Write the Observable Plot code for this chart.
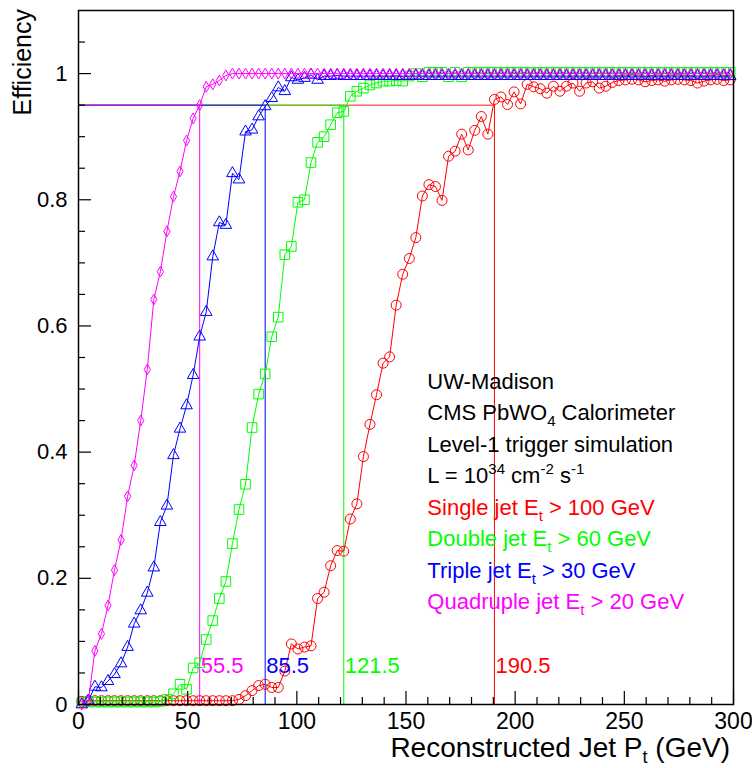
<!DOCTYPE html>
<html>
<head>
<meta charset="utf-8">
<script src="https://cdn.jsdelivr.net/npm/d3@7"></script>
<script src="https://cdn.jsdelivr.net/npm/@observablehq/plot@0.6"></script>
<style>
html,body{margin:0;padding:0;background:#fff;}
</style>
</head>
<body>
<div id="chart"></div>
<script>
// ---- data: trigger efficiency vs reconstructed jet Pt, 3 GeV bins (0..300 GeV) ----
const binWidth = 3;
const nBins = 100;
const ptCenters = Array.from({length: nBins}, (_, i) => binWidth * (i + 0.5));

const singleJet = [
  0.005,0.006,0.006,0.006,0.006,0.006,0.006,0.006,0.006,0.006,
  0.006,0.006,0.006,0.006,0.006,0.006,0.006,0.006,0.006,0.006,
  0.006,0.006,0.006,0.006,0.008,0.014,0.022,0.030,0.032,0.027,
  0.027,0.053,0.096,0.088,0.091,0.093,0.168,0.178,0.220,0.244,
  0.243,0.294,0.318,0.393,0.444,0.491,0.541,0.551,0.633,0.682,
  0.707,0.740,0.806,0.824,0.821,0.799,0.869,0.877,0.904,0.879,
  0.910,0.932,0.904,0.959,0.963,0.951,0.971,0.952,0.983,0.979,
  0.976,0.969,0.980,0.972,0.980,0.985,0.972,0.985,0.987,0.977,
  0.980,0.986,0.989,0.990,0.991,0.990,0.987,0.989,0.990,0.988,
  0.990,0.991,0.990,0.989,0.985,0.988,0.990,0.991,0.989,0.990
];
const doubleJet = [
  0.003,0.004,0.004,0.004,0.004,0.004,0.004,0.004,0.004,0.004,
  0.004,0.004,0.005,0.008,0.017,0.032,0.024,0.058,0.066,0.103,
  0.133,0.168,0.195,0.255,0.309,0.349,0.439,0.492,0.524,0.583,
  0.614,0.713,0.726,0.796,0.800,0.859,0.891,0.900,0.919,0.938,
  0.940,0.964,0.972,0.977,0.982,0.985,0.988,0.988,0.989,0.988,
  0.996,1.000,0.995,1.002,1.002,1.002,0.995,1.002,0.995,1.002,
  1.002,1.002,1.002,1.002,1.002,1.002,1.002,1.002,1.002,1.002,
  1.002,1.002,1.002,1.002,1.002,1.002,1.002,1.002,1.002,1.002,
  1.002,1.002,1.002,1.002,1.002,1.002,1.002,1.002,1.002,1.002,
  1.002,1.002,1.002,1.002,1.002,1.002,1.002,1.002,1.002,1.002
];
const tripleJet = [
  0.000,0.006,0.028,0.027,0.037,0.048,0.065,0.091,0.128,0.149,
  0.177,0.217,0.289,0.315,0.395,0.437,0.474,0.522,0.583,0.622,
  0.710,0.764,0.760,0.842,0.832,0.908,0.911,0.932,0.948,0.961,
  0.978,0.972,0.994,0.990,0.993,0.998,0.990,0.996,0.996,0.997,
  0.996,0.996,0.996,0.996,0.996,0.996,0.996,0.996,0.996,0.996,
  0.996,0.996,0.996,0.996,0.996,0.996,0.996,0.996,0.996,0.996,
  0.996,0.996,0.996,0.996,0.996,0.996,0.996,0.996,0.996,0.996,
  0.996,0.996,0.996,0.996,0.996,0.996,0.996,0.996,0.996,0.996,
  0.996,0.996,0.996,0.996,0.996,0.996,0.996,0.996,0.996,0.996,
  0.996,0.996,0.996,0.996,0.996,0.996,0.996,0.996,0.996,0.996
];
const quadJet = [
  0.000,0.005,0.085,0.112,0.157,0.213,0.261,0.330,0.379,0.450,
  0.531,0.642,0.686,0.750,0.805,0.845,0.894,0.929,0.950,0.979,
  0.983,0.989,0.997,1.000,1.000,1.000,1.000,1.000,1.000,1.000,
  1.000,1.000,1.000,1.000,1.000,1.000,1.000,1.000,1.000,1.000,
  1.000,1.000,1.000,1.000,1.000,1.000,1.000,1.000,1.000,1.000,
  1.000,1.000,1.000,1.000,1.000,1.000,1.000,1.000,1.000,1.000,
  1.000,1.000,1.000,1.000,1.000,1.000,1.000,1.000,1.000,1.000,
  1.000,1.000,1.000,1.000,1.000,1.000,1.000,1.000,1.000,1.000,
  1.000,1.000,1.000,1.000,1.000,1.000,1.000,1.000,1.000,1.000,
  1.000,1.000,1.000,1.000,1.000,1.000,1.000,1.000,1.000,1.000
];

const seriesColors  = ["#ff0000", "#00ff00", "#0000ff", "#ff00ff"];
const seriesSymbols = ["circle", "square", "triangle", "diamond"];
const seriesRadius  = [5.0, 5.4, 4.3, 3.3];
const thresholds95  = [190.5, 121.5, 85.5, 55.5];
const thresholdText = ["190.5", "121.5", "85.5", "55.5"];
const effLevel = 0.95;
const thresholdLabelY = 0.05;

const xMajorTicks = [0, 50, 100, 150, 200, 250, 300];
const xMinorTicks = [10,20,30,40,60,70,80,90,110,120,130,140,160,170,180,190,210,220,230,240,260,270,280,290];
const yMajorTicks = [0, 0.2, 0.4, 0.6, 0.8, 1];
const yMinorTicks = [0.05,0.1,0.15,0.25,0.3,0.35,0.45,0.5,0.55,0.65,0.7,0.75,0.85,0.9,0.95,1.05];

const legendLines = [
  [["UW-Madison"]],
  [["CMS PbWO"], ["4", "sub"], [" Calorimeter"]],
  [["Level-1 trigger simulation"]],
  [["L = 10"], ["34", "sup"], [" cm"], ["-2", "sup"], [" s"], ["-1", "sup"]],
  [["Single jet E"], ["t", "sub"], [" > 100 GeV"]],
  [["Double jet E"], ["t", "sub"], [" > 60 GeV"]],
  [["Triple jet E"], ["t", "sub"], [" > 30 GeV"]],
  [["Quadruple jet E"], ["t", "sub"], [" > 20 GeV"]]
];
const legendColors = ["#000000", "#000000", "#000000", "#000000", ...seriesColors];
const legendX = 160, legendTopY = 0.5, legendStep = 0.05;

const xTitle = [["Reconstructed Jet P"], ["t", "sub"], [" (GeV)"]];
const yTitle = "Efficiency";

// ---- chart ----
const FONT = "'Liberation Sans', Arial, Helvetica, sans-serif";
const effSeries = [singleJet, doubleJet, tripleJet, quadJet];
const marks = [];

thresholds95.forEach((t, i) => {
  marks.push(Plot.ruleY([effLevel], {x1: 0, x2: t, stroke: seriesColors[i], strokeOpacity: 0.6, strokeWidth: 1.5}));
  marks.push(Plot.ruleX([t], {y1: 0, y2: effLevel, stroke: seriesColors[i], strokeWidth: 1}));
});

effSeries.forEach((vals, i) => {
  const rows = vals.map((v, k) => ({pt: ptCenters[k], eff: v}));
  marks.push(Plot.line(rows, {x: "pt", y: "eff", stroke: seriesColors[i], strokeWidth: 1}));
  marks.push(Plot.dot(rows, {x: "pt", y: "eff", symbol: seriesSymbols[i], r: seriesRadius[i],
    stroke: seriesColors[i], fill: "none", strokeWidth: 1}));
});

thresholds95.forEach((t, i) => {
  marks.push(Plot.text([t], {x: d => d, y: thresholdLabelY, text: () => thresholdText[i],
    fill: seriesColors[i], textAnchor: "start", lineAnchor: "bottom", fontSize: 22, dx: 1}));
});

marks.push(
  Plot.axisX(xMajorTicks, {tickSize: 0, tickPadding: 8, fontSize: 23, tickFormat: d => String(d), label: null}),
  Plot.axisX(xMajorTicks, {tickSize: -13, tickFormat: () => "", label: null, strokeWidth: 1.2}),
  Plot.axisX(xMinorTicks, {tickSize: -7, tickFormat: () => "", label: null, strokeWidth: 1.2}),
  Plot.axisY(yMajorTicks, {tickSize: 0, tickPadding: 11, fontSize: 22, tickFormat: d => String(d), label: null}),
  Plot.axisY(yMajorTicks, {tickSize: -13, tickFormat: () => "", label: null, strokeWidth: 1.2}),
  Plot.axisY(yMinorTicks, {tickSize: -7, tickFormat: () => "", label: null, strokeWidth: 1.2}),
  Plot.frame({stroke: "#000", strokeWidth: 1.5})
);

const plot = Plot.plot({
  width: 752,
  height: 768,
  marginLeft: 78,
  marginRight: 19,
  marginTop: 10,
  marginBottom: 64,
  x: {domain: [0, 300], label: null},
  y: {domain: [0, 1.1], label: null},
  style: {fontFamily: FONT, background: "#fff", color: "#000", overflow: "visible"},
  marks
});

const sx = plot.scale("x"), sy = plot.scale("y");
const svg = d3.select(plot);

function richText(sel, parts, subSize) {
  let shift = 0;
  parts.forEach(([str, kind]) => {
    const target = kind === "sub" ? 6 : kind === "sup" ? -9 : 0;
    const ts = sel.append("tspan").attr("dy", target - shift).text(str);
    if (kind) ts.attr("font-size", subSize);
    shift = target;
  });
}

const lg = svg.append("g").attr("font-family", FONT).attr("font-size", 22)
  .attr("text-anchor", "start").style("white-space", "pre");
legendLines.forEach((parts, i) => {
  const t = lg.append("text")
    .attr("x", sx.apply(legendX))
    .attr("y", sy.apply(legendTopY - i * legendStep))
    .attr("text-anchor", "start")
    .attr("fill", legendColors[i]);
  richText(t, parts, 15);
});

const xt = svg.append("text")
  .attr("x", sx.apply(300) - 3).attr("y", 757)
  .attr("text-anchor", "end").attr("font-family", FONT).attr("font-size", 28)
  .style("white-space", "pre").attr("fill", "#000");
richText(xt, xTitle, 18);

svg.append("text")
  .attr("transform", "translate(31,9) rotate(-90)")
  .attr("text-anchor", "end").attr("font-family", FONT).attr("font-size", 25)
  .attr("fill", "#000").text(yTitle);

document.getElementById("chart").appendChild(plot);
</script>
</body>
</html>
